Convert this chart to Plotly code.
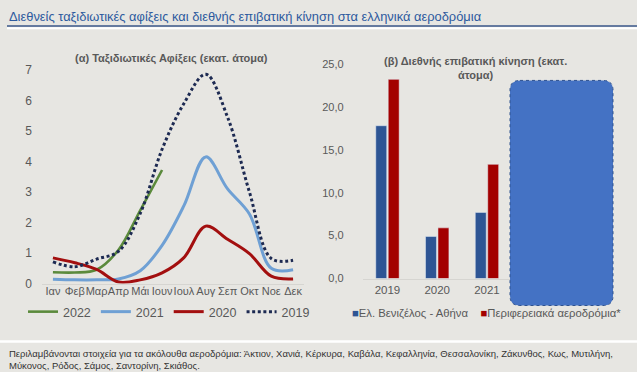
import plotly.graph_objects as go

W, H = 637, 372

# ---------------- data ----------------
months = ['Ιαν', 'Φεβ', 'Μαρ', 'Απρ', 'Μάι', 'Ιουν', 'Ιουλ', 'Αυγ', 'Σεπ', 'Οκτ', 'Νοε', 'Δεκ']
arrivals_2022 = [0.37, 0.36, 0.45, 1.10, 2.40, 3.72]
arrivals_2021 = [0.14, 0.12, 0.12, 0.15, 0.42, 1.25, 2.55, 4.15, 3.10, 2.28, 0.50, 0.45]
arrivals_2020 = [0.84, 0.68, 0.46, 0.05, 0.12, 0.35, 0.85, 1.88, 1.45, 0.98, 0.24, 0.15]
arrivals_2019 = [0.71, 0.55, 0.80, 1.05, 2.30, 4.40, 5.90, 6.86, 5.45, 3.00, 0.82, 0.76]

years = ['2019', '2020', '2021']
year_slots = ['2019', '2020', '2021', '2022']
athens = [17.8, 4.9, 7.7]
regional = [23.2, 5.9, 13.3]
athens_name = 'Ελ. Βενιζέλος - Αθήνα'
regional_name = 'Περιφερειακά αεροδρόμια*'

title_text = 'Διεθνείς ταξιδιωτικές αφίξεις και διεθνής επιβατική κίνηση στα ελληνικά αεροδρόμια'
left_title = '(α) Ταξιδιωτικές Αφίξεις (εκατ. άτομα)'
right_title = '(β) Διεθνής επιβατική κίνηση (εκατ.<br>άτομα)'
footnote = ('Περιλαμβάνονται στοιχεία για τα ακόλουθα αεροδρόμια: Άκτιον, Χανιά, Κέρκυρα, Καβάλα, '
            'Κεφαλληνία, Θεσσαλονίκη, Ζάκυνθος, Κως, Μυτιλήνη,<br>Μύκονος, Ρόδος, Σάμος, Σαντορίνη, Σκιάθος.')

# ---------------- helpers ----------------
def px(v):
    return v / W

def py(t):
    # vertical target position (pixels from top) -> paper fraction
    v = (t - 5.1) / 0.962
    return 1 - v / H

FONT = 'Liberation Sans, Arial, sans-serif'
GREY = '#595959'
BG = '#e7e6e2'

fig = go.Figure()

line_specs = [
    ('2022', arrivals_2022, '#5b8a3c', 2.6, 'solid'),
    ('2021', arrivals_2021, '#6fa0d4', 3, 'solid'),
    ('2020', arrivals_2020, '#a30f0f', 3, 'solid'),
    ('2019', arrivals_2019, '#1d2a52', 3, '3px,2.6px'),
]
for name, vals, col, w, dash in line_specs:
    fig.add_trace(go.Scatter(
        x=months[:len(vals)], y=vals, name=name, mode='lines',
        line=dict(color=col, width=w, dash=dash, shape='spline', smoothing=1.0),
        xaxis='x', yaxis='y', legend='legend', hoverinfo='skip'))

fig.add_trace(go.Bar(x=years, y=athens, name=athens_name, marker_color='#2e5594',
                     xaxis='x2', yaxis='y2', showlegend=False))
fig.add_trace(go.Bar(x=years, y=regional, name=regional_name, marker_color='#a30000',
                     xaxis='x2', yaxis='y2', showlegend=False))

# ---------------- layout ----------------
axis_font = dict(family=FONT, size=11, color=GREY)

fig.update_layout(
    width=W, height=H,
    margin=dict(l=0, r=0, t=0, b=0),
    paper_bgcolor=BG, plot_bgcolor='rgba(0,0,0,0)',
    separators=',.',
    font=dict(family=FONT, color=GREY),
    barmode='group', bargap=0.5, bargroupgap=0.12,
    xaxis=dict(domain=[px(42), px(304)], type='category', categoryarray=months,
               range=[-0.5, 11.5], showgrid=False, zeroline=False,
               showline=True, linecolor='#d6d5d1', linewidth=1, tickangle=0,
               tickfont=axis_font, ticks='', ticklabelstandoff=-3, anchor='y'),
    yaxis=dict(domain=[py(281.5), py(68)], range=[0, 7], dtick=1,
               showgrid=False, zeroline=False, showline=False,
               tickfont=dict(family=FONT, size=12, color=GREY), ticks='',
               ticklabelstandoff=9, anchor='x'),
    xaxis2=dict(domain=[px(362.6), px(561.6)], type='category', categoryarray=year_slots,
                range=[-0.5, 3.5], tickvals=years, showgrid=False, zeroline=False,
                showline=True, linecolor='#d6d5d1', linewidth=1, tickangle=0,
                tickfont=dict(family=FONT, size=11.5, color=GREY), ticks='',
                ticklabelstandoff=1, anchor='y2'),
    yaxis2=dict(domain=[py(276.5), py(62)], range=[0, 25], dtick=5, tickformat='.1f',
                showgrid=False, zeroline=False, showline=False,
                tickfont=axis_font, ticks='', ticklabelstandoff=18, anchor='x2'),
    legend=dict(orientation='h', x=px(23), y=py(310), xanchor='left', yanchor='middle',
                font=dict(family=FONT, size=12.5, color=GREY), bgcolor='rgba(0,0,0,0)',
                itemwidth=30, tracegroupgap=0),
    showlegend=True,
)

annotations = [
    dict(text=title_text, x=px(7), y=py(15), xref='paper', yref='paper',
         xanchor='left', yanchor='middle', showarrow=False,
         font=dict(family=FONT, size=12.9, color='#2d5a9e')),
    dict(text='<b>' + left_title + '</b>', x=px(171), y=py(57), xref='paper', yref='paper',
         xanchor='center', yanchor='middle', showarrow=False,
         font=dict(family=FONT, size=11, color=GREY)),
    dict(text='<b>' + right_title + '</b>', x=px(475), y=py(66), xref='paper', yref='paper',
         xanchor='center', yanchor='middle', showarrow=False,
         font=dict(family=FONT, size=11, color=GREY)),
    dict(text=('<span style="color:#2e5594">■</span>' + athens_name +
               '    <span style="color:#a30000">■</span>' + regional_name),
         x=px(350), y=py(311), xref='paper', yref='paper',
         xanchor='left', yanchor='middle', showarrow=False,
         font=dict(family=FONT, size=11.3, color=GREY)),
    dict(text=footnote, x=px(7), y=py(357), xref='paper', yref='paper',
         xanchor='left', yanchor='middle', showarrow=False, align='left',
         font=dict(family=FONT, size=9.5, color='#333333')),
]
fig.update_layout(annotations=annotations)

# rounded rectangle overlay
x0, x1, yt, yb = px(510), px(613), py(78.5), py(303.5)
rx, ry = 10 / W, 10 / H
path = (f'M {x0+rx},{yt} L {x1-rx},{yt} Q {x1},{yt} {x1},{yt-ry} '
        f'L {x1},{yb+ry} Q {x1},{yb} {x1-rx},{yb} L {x0+rx},{yb} '
        f'Q {x0},{yb} {x0},{yb+ry} L {x0},{yt-ry} Q {x0},{yt} {x0+rx},{yt} Z')

shapes = [
    dict(type='line', xref='paper', yref='paper', x0=px(7), x1=1, y0=py(24), y1=py(24),
         line=dict(color='#3a5688', width=1.5)),
    dict(type='line', xref='paper', yref='paper', x0=px(7), x1=1, y0=py(26.3), y1=py(26.3),
         line=dict(color='#ffffff', width=2)),
    dict(type='line', xref='paper', yref='paper', x0=0, x1=1, y0=py(339.5), y1=py(339.5),
         line=dict(color='#ffffff', width=2.5)),
    dict(type='path', xref='paper', yref='paper', path=path, layer='above',
         fillcolor='#4472c4', line=dict(color='#2f528f', width=1, dash='dot')),
]
fig.update_layout(shapes=shapes)

css_fix = ("var s=document.createElement('style');"
           "s.textContent='html,body{margin:0!important;padding:0!important;overflow:hidden!important;"
           "height:372px!important;width:637px!important;}';"
           "document.head.appendChild(s);")

fig.write_html('out.html', config={'displayModeBar': False}, post_script=css_fix)
